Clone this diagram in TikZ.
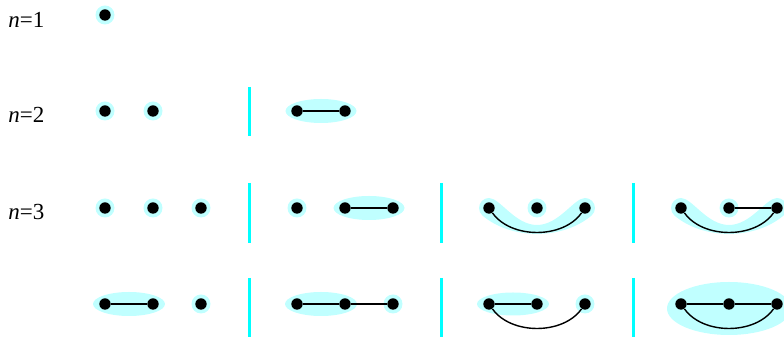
\documentclass[tikz,border=0pt]{standalone}
\usepackage{fontspec}
\setmainfont{Liberation Serif}
\usetikzlibrary{backgrounds}
\definecolor{HaloCyan}{HTML}{C0FFFF}
\definecolor{SepCyan}{HTML}{00FFFF}

\begin{document}
\begin{tikzpicture}[
    x=0.5pt, y=0.5pt,
    vtx/.style={
      circle,
      fill=black,
      inner sep=0pt,
      minimum size=5.7pt
    },
    link/.style={
      draw=black,
      line width=0.7pt
    },
    blob/.style={
      fill=HaloCyan
    },
    divider/.style={
      draw=SepCyan,
      line width=1.5pt
    },
    rowlabel/.style={
      anchor=base west,
      inner sep=0pt,
      font=\fontsize{11.5}{13}\selectfont
    }
  ]

  \useasboundingbox (0,0) rectangle (784,337);
  \clip (0,0) rectangle (784,337);

  % Row labels
  \node[rowlabel] (lab1) at (8,309) {\textit{n}=1};
  \node[rowlabel] (lab2) at (8,214) {\textit{n}=2};
  \node[rowlabel] (lab3) at (8,117) {\textit{n}=3};

  % Vertices
  \node[vtx] (r1a1) at (105,322) {};
  \foreach \g/\gx in {a/0,b/192}
    \foreach \i/\x in {1/105,2/153}
      \node[vtx] (r2\g\i) at (\gx+\x,226) {};
  \foreach \g/\gx in {a/0,b/192,c/384,d/576}
    \foreach \i/\x in {1/105,2/153,3/201} {
      \node[vtx] (r3\g\i) at (\gx+\x,129) {};
      \node[vtx] (r4\g\i) at (\gx+\x,33) {};
    }

  \begin{scope}[on background layer]
    % Single halos
    \foreach \v in {r1a1, r2a1, r2a2, r3a1, r3a2, r3a3, r3b1, r3c2, r3d2,
                    r4a3, r4b3, r4c3}
      \fill[blob] (\v) circle[radius=9.5];

    % Blocks of two or three
    \fill[blob] (321,226) ellipse[x radius=35.5, y radius=12];
    \fill[blob] (369,129) ellipse[x radius=35.5, y radius=12];
    \fill[blob] (129,33)  ellipse[x radius=36, y radius=12];
    \fill[blob] (321,33)  ellipse[x radius=36, y radius=12];
    \fill[blob] (513,33)  ellipse[x radius=36, y radius=11.5];
    \fill[blob] (729,28.5) ellipse[x radius=62, y radius=26.5];

    % Outer pair joined below the middle vertex
    \foreach \dx in {0,192}
      \fill[blob, shift={(\dx,0)}] (479,129)
        arc[start angle=180, end angle=90, radius=10]
        .. controls (500,139) and (515,112) .. (537,112)
        .. controls (559,112) and (574,139) .. (585,139)
        arc[start angle=90, end angle=-50, radius=10]
        .. controls (562.4,97) and (511.6,97) .. (482.6,121.3)
        arc[start angle=230, end angle=180, radius=10] -- cycle;
  \end{scope}

  % Edges
  \draw[link] (r2b1) -- (r2b2);
  \draw[link] (r3b2) -- (r3b3);
  \draw[link] (r3d2) -- (r3d3);
  \draw[link] (r4a1) -- (r4a2);
  \draw[link] (r4b1) -- (r4b2) -- (r4b3);
  \draw[link] (r4c1) -- (r4c2);
  \draw[link] (r4d1) -- (r4d2) -- (r4d3);
  \foreach \a/\b in {r3c1/r3c3, r3d1/r3d3, r4c1/r4c3, r4d1/r4d3}
    \draw[link] (\a) .. controls +(22,-31) and +(-22,-31) .. (\b);

  % Dividers
  \draw[divider] (249,250) -- (249,201);
  \foreach \gx in {249,441,633} {
    \draw[divider] (\gx,154) -- (\gx,94);
    \draw[divider] (\gx,59) -- (\gx,-5);
  }

\end{tikzpicture}
\end{document}
